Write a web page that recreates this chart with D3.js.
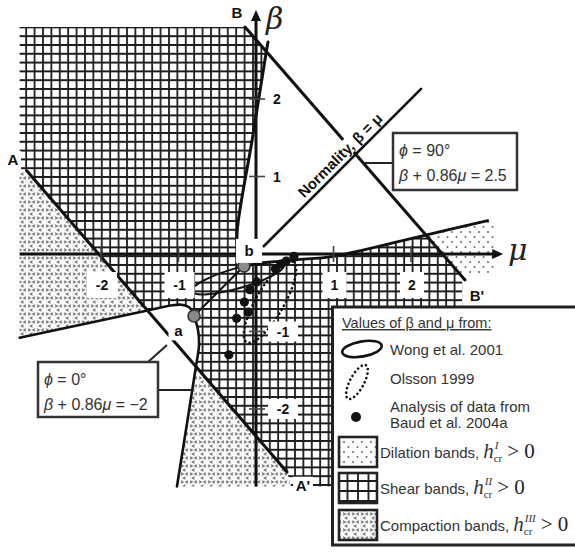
<!DOCTYPE html>
<html>
<head>
<meta charset="utf-8">
<script src="https://cdn.jsdelivr.net/npm/d3@7/dist/d3.min.js"></script>
<style>
  html, body { margin: 0; padding: 0; background: #fff; }
  svg { display: block; }
</style>
</head>
<body>
<svg id="chart" width="575" height="552"></svg>
<script>
// Axis ticks (μ horizontal, β vertical)
const muTicks = [-2, -1, 1, 2];
const betaTicks = [2, 1, -1, -2];

// Extent of the shaded (μ, β) field
const fieldMu = [-3.05, 3.08];
const fieldBeta = [-3.0, 2.93];

// Bifurcation points a and b
const pointA = [-0.8, -0.8];
const pointB = [-0.155, -0.155];

// Straight boundaries: φ = 0° (A–A'), φ = 90° (B–B') and normality β = μ
const lineAA = [[-2.955, 1.071], [0.40, -2.813]];
const lineBB = [[-0.142, 2.929], [2.697, -0.335]];
const normalityLine = [[0.1, 0.1], [2.13, 2.13]];

// Curved boundaries leaving the bifurcation points
const curveBUp = [pointB, [-0.23, 0.03], [-0.245, 0.27], [-0.045, 1.5], [0.133, 2.613], [0.155, 2.735]];
const curveBRight = [pointB, [0.1, -0.115], [0.5, -0.075], [1.0, -0.03], [2.19, 0.245], [2.99, 0.43]];
const curveALeft = [pointA, [-0.86, -0.69], [-0.96, -0.655], [-1.1, -0.665], [-1.4, -0.728], [-3.05, -1.08]];
const curveADown = [pointA, [-0.748, -0.981], [-0.735, -1.174], [-0.774, -1.445], [-1.02, -3.0]];

// Where the boundaries cross each other
const crossAALeft = [-1.4, -0.728];
const crossAADown = [-0.774, -1.445];
const crossBBUp = [0.133, 2.613];
const crossBBRight = [2.19, 0.245];
const crossBBLow = [2.632, -0.26];

// Measured (μ, β) values
const wongEllipse = { mu: -0.232, beta: -0.31, a: 0.617, b: 0.13, tilt: 16 };
const olssonEllipse = { mu: 0.18, beta: -0.62, a: 0.6, b: 0.18, tilt: 60 };
const baudMu   = [0.49, 0.39, 0.32, 0.25, 0.01, -0.08, -0.15, -0.10, -0.25, -0.35];
const baudBeta = [-0.03, -0.09, -0.13, -0.19, -0.36, -0.46, -0.62, -0.75, -0.83, -1.30];

// ---------------------------------------------------------------
const svg = d3.select("#chart");
const x = d3.scaleLinear().domain([-3, 3]).range([23.5, 488.5]);
const y = d3.scaleLinear().domain([-3, 3]).range([486.5, 21.5]);

const straight = d3.line().x(d => x(d[0])).y(d => y(d[1]));
const smooth = d3.line().x(d => x(d[0])).y(d => y(d[1])).curve(d3.curveCatmullRom.alpha(0.5));

function region(parts) {
  return parts.map((s, i) => i ? s.replace(/^M/, "L") : s).join("") + "Z";
}
const rev = a => a.slice().reverse();

// ---- patterns ----
const defs = svg.append("defs");

function gridPattern(id, w, h, sw) {
  const p = defs.append("pattern").attr("id", id).attr("patternUnits", "userSpaceOnUse")
    .attr("width", w).attr("height", h);
  p.append("rect").attr("width", w).attr("height", h).attr("fill", "#fff");
  p.append("path").attr("d", `M1,0V${h}M0,1H${w}`).attr("stroke", "#1c1c1c").attr("stroke-width", sw);
}
gridPattern("shear", 8.4, 8.8, 1.8);
gridPattern("shearKey", 10.5, 10, 1.8);

const comp = defs.append("pattern").attr("id", "compaction").attr("patternUnits", "userSpaceOnUse")
  .attr("width", 9).attr("height", 8);
comp.append("rect").attr("width", 9).attr("height", 8).attr("fill", "#fafafa");
comp.append("path")
  .attr("d", "M1,0.8L3.2,2L1,3.2 M8,0.8L5.8,2L8,3.2 M5.5,4.8L3.3,6L5.5,7.2")
  .attr("fill", "none").attr("stroke", "#6e6e6e").attr("stroke-width", 1.1);

const dil = defs.append("pattern").attr("id", "dilation").attr("patternUnits", "userSpaceOnUse")
  .attr("width", 9).attr("height", 10);
dil.append("rect").attr("width", 9).attr("height", 10).attr("fill", "#fff");
dil.append("circle").attr("cx", 2).attr("cy", 2).attr("r", 1).attr("fill", "#6a6a6a");
dil.append("circle").attr("cx", 6.5).attr("cy", 7).attr("r", 1).attr("fill", "#6a6a6a");

// ---- shaded regions ----
const fills = svg.append("g");

// shear bands, upper-left field
fills.append("path").attr("fill", "url(#shear)").attr("d", region([
  straight([[fieldMu[0], fieldBeta[1]], lineBB[0], crossBBUp]),
  smooth(rev(curveBUp.slice(0, 5))),
  straight([pointB, pointA]),
  smooth(curveALeft.slice(0, 5)),
  straight([crossAALeft, lineAA[0], [fieldMu[0], lineAA[0][1]]])
]));

// shear bands, central field below b
fills.append("path").attr("fill", "url(#shear)").attr("d", region([
  smooth(curveBRight.slice(0, 5)),
  straight([crossBBRight, crossBBLow, [2.66, crossBBLow[1]], [2.66, fieldBeta[0]],
            [0.45, fieldBeta[0]], lineAA[1], crossAADown]),
  smooth(rev(curveADown.slice(0, 4))),
  straight([pointA, pointB])
]));

// compaction bands, left of A–A'
fills.append("path").attr("fill", "url(#compaction)").attr("d", region([
  straight([[fieldMu[0], lineAA[0][1]], lineAA[0], crossAALeft, curveALeft[5]])
]));

// compaction bands, below A–A'
fills.append("path").attr("fill", "url(#compaction)").attr("d", region([
  straight([crossAADown, curveADown[4], [0.45, fieldBeta[0]], lineAA[1]])
]));

// dilation bands, right of B–B'
fills.append("path").attr("fill", "url(#dilation)").attr("d", region([
  straight([crossBBRight, curveBRight[5], [fieldMu[1], curveBRight[5][1]], [fieldMu[1], crossBBLow[1]], crossBBLow])
]));

// ---- boundary curves ----
const lines = svg.append("g").attr("fill", "none").attr("stroke", "#111").attr("stroke-linecap", "round");
lines.append("path").attr("d", straight(lineAA)).attr("stroke-width", 3);
lines.append("path").attr("d", straight(lineBB)).attr("stroke-width", 3);
lines.append("path").attr("d", straight([pointA, pointB])).attr("stroke-width", 2);
lines.append("path").attr("d", smooth(curveBUp)).attr("stroke-width", 3);
lines.append("path").attr("d", smooth(curveBRight)).attr("stroke-width", 2.8);
lines.append("path").attr("d", smooth(curveALeft)).attr("stroke-width", 2.6);
lines.append("path").attr("d", smooth(curveADown)).attr("stroke-width", 2.6);

// normality label along β = μ, on a white backing that breaks B–B'
const normMid = [1.18, 1.18];
const normG = svg.append("g")
  .attr("transform", `translate(${x(normMid[0])},${y(normMid[1])}) rotate(-45)`);
normG.append("rect").attr("x", -64).attr("y", -19).attr("width", 128).attr("height", 16).attr("fill", "#fff");
normG.append("text").attr("x", 0).attr("y", -5)
  .attr("text-anchor", "middle")
  .attr("font-family", "Liberation Sans, Arial, sans-serif").attr("font-weight", "bold")
  .attr("font-size", 15).attr("fill", "#111")
  .text("Normality, β = μ");
svg.append("path").attr("d", straight(normalityLine)).attr("fill", "none")
  .attr("stroke", "#111").attr("stroke-width", 2.6).attr("stroke-linecap", "round");

// ---- axes ----
const axes = svg.append("g");
const muEnd = 3.19, betaEnd = 3.15;
axes.append("line").attr("x1", x(fieldMu[0])).attr("x2", x(muEnd) - 8).attr("y1", y(0)).attr("y2", y(0))
  .attr("stroke", "#111").attr("stroke-width", 3);
axes.append("path").attr("fill", "#111")
  .attr("d", `M${x(muEnd)},${y(0)} l-11,-5 v10 z`);
axes.append("line").attr("y1", y(fieldBeta[0])).attr("y2", y(betaEnd) + 8).attr("x1", x(0)).attr("x2", x(0))
  .attr("stroke", "#111").attr("stroke-width", 3);
axes.append("path").attr("fill", "#111")
  .attr("d", `M${x(0)},${y(betaEnd)} l-5,11 h10 z`);

axes.selectAll(".mutick").data(muTicks).enter().append("line")
  .attr("x1", d => x(d)).attr("x2", d => x(d)).attr("y1", y(0) - 8).attr("y2", y(0) + 8)
  .attr("stroke", "#444").attr("stroke-width", 1.6);
axes.selectAll(".betatick").data(betaTicks).enter().append("line")
  .attr("x1", x(0) - 7).attr("x2", x(0) + 9).attr("y1", d => y(d)).attr("y2", d => y(d))
  .attr("stroke", "#444").attr("stroke-width", 1.6);

// ---- measured values ----
function drawEllipse(g, e) {
  return g.append("ellipse")
    .attr("rx", x(e.a) - x(0)).attr("ry", y(0) - y(e.b))
    .attr("transform", `translate(${x(e.mu)},${y(e.beta)}) rotate(${-e.tilt})`)
    .attr("fill", "none").attr("stroke", "#111");
}
const meas = svg.append("g");
drawEllipse(meas, wongEllipse).attr("stroke-width", 2);
drawEllipse(meas, olssonEllipse).attr("stroke-width", 2.6)
  .attr("stroke-dasharray", "0.1 4.6").attr("stroke-linecap", "round");
meas.selectAll(".baud").data(baudMu).enter().append("circle")
  .attr("cx", d => x(d)).attr("cy", (d, i) => y(baudBeta[i])).attr("r", 4.6).attr("fill", "#111");

// bifurcation points
[pointA, pointB].forEach(p => {
  meas.append("circle").attr("cx", x(p[0])).attr("cy", y(p[1])).attr("r", 6)
    .attr("fill", "#8a8a8a").attr("stroke", "#333").attr("stroke-width", 1.6);
});

// ---- labels with white backing ----
const labels = svg.append("g");
function backedLabel(text, cx, cy, w, h, opts = {}) {
  labels.append("rect").attr("x", cx - w / 2).attr("y", cy - h / 2).attr("width", w).attr("height", h)
    .attr("fill", "#fff");
  labels.append("text").attr("x", cx).attr("y", cy).attr("dy", "0.36em")
    .attr("text-anchor", "middle")
    .attr("font-family", "Liberation Sans, Arial, sans-serif")
    .attr("font-weight", "bold").attr("font-size", opts.size || 14)
    .attr("fill", "#111").text(text);
}
muTicks.forEach(t => backedLabel(String(t), x(t) + 1, 285, t < 0 ? 30 : 24, 26));
betaTicks.forEach(t => backedLabel(String(t), t > 0 ? 277 : 283, y(t), t > 0 ? 14 : 30, t > 0 ? 18 : 20));

backedLabel("A", x(-3.135), y(1.213), 16, 18, { size: 15 });
backedLabel("B", x(-0.245), y(3.11), 16, 18, { size: 15 });
backedLabel("B'", x(2.85), y(-0.54), 20, 18, { size: 15 });
backedLabel("A'", x(0.606), y(-2.99), 20, 18, { size: 15 });
backedLabel("a", x(-1.0), y(-0.985), 20, 20, { size: 15 });
backedLabel("b", x(-0.09), y(0.04), 26, 24, { size: 15 });

// axis symbols
svg.append("text").attr("x", 266).attr("y", 29)
  .attr("font-family", "DejaVu Serif, Liberation Serif, serif").attr("font-style", "italic")
  .attr("font-size", 30).attr("fill", "#222").text("β");
svg.append("text").attr("x", 508).attr("y", 260)
  .attr("font-family", "DejaVu Serif, Liberation Serif, serif").attr("font-style", "italic")
  .attr("font-size", 30).attr("fill", "#222").text("μ");

// ---- φ boxes with leaders ----
const boxes = svg.append("g");
function phiBox(bx, by, w, h, phi, eq, leaders) {
  leaders.forEach(l => boxes.append("line").attr("x1", l[0]).attr("y1", l[1]).attr("x2", l[2]).attr("y2", l[3])
    .attr("stroke", "#222").attr("stroke-width", 2));
  boxes.append("rect").attr("x", bx).attr("y", by).attr("width", w).attr("height", h)
    .attr("fill", "#fff").attr("stroke", "#333").attr("stroke-width", 2.5);
  const t1 = boxes.append("text").attr("x", bx + 6).attr("y", by + 23)
    .attr("font-family", "Liberation Sans, Arial, sans-serif").attr("font-size", 16).attr("fill", "#333");
  t1.append("tspan").attr("font-style", "italic").text("ϕ");
  t1.append("tspan").text(" = " + phi + "°");
  const t2 = boxes.append("text").attr("x", bx + 6).attr("y", by + 48)
    .attr("font-family", "Liberation Sans, Arial, sans-serif").attr("font-size", 16).attr("fill", "#333");
  t2.append("tspan").attr("font-style", "italic").text("β");
  t2.append("tspan").text(" + 0.86");
  t2.append("tspan").attr("font-style", "italic").text("μ");
  t2.append("tspan").text(" = " + eq);
}
phiBox(393, 133, 124, 57, "90", "2.5", [[365, 163, 393, 163]]);
phiBox(38, 362, 120, 55, "0", "−2", [[148, 362, 167, 345], [158, 390, 193, 390]]);

// ---- legend ----
const leg = svg.append("g");
leg.append("rect").attr("x", 332.5).attr("y", 307).attr("width", 250).attr("height", 238)
  .attr("fill", "#fff").attr("stroke", "#222").attr("stroke-width", 3);

const sans = "Liberation Sans, Arial, sans-serif";
leg.append("text").attr("x", 342).attr("y", 328).attr("font-family", sans)
  .attr("font-size", 14.5).attr("fill", "#333").attr("text-decoration", "underline")
  .text("Values of β and μ from:");

leg.append("ellipse").attr("rx", 20).attr("ry", 7.5)
  .attr("transform", "translate(362,349) rotate(-10)")
  .attr("fill", "none").attr("stroke", "#111").attr("stroke-width", 2.6);
leg.append("text").attr("x", 390).attr("y", 355).attr("font-family", sans).attr("font-size", 15)
  .attr("fill", "#333").text("Wong et al. 2001");

leg.append("ellipse").attr("rx", 19).attr("ry", 7)
  .attr("transform", "translate(357,382) rotate(-62)")
  .attr("fill", "none").attr("stroke", "#111").attr("stroke-width", 2.6)
  .attr("stroke-dasharray", "0.1 4.4").attr("stroke-linecap", "round");
leg.append("text").attr("x", 390).attr("y", 384).attr("font-family", sans).attr("font-size", 15)
  .attr("fill", "#333").text("Olsson 1999");

leg.append("circle").attr("cx", 356).attr("cy", 417).attr("r", 5).attr("fill", "#111");
leg.append("text").attr("x", 390).attr("y", 412).attr("font-family", sans).attr("font-size", 15)
  .attr("fill", "#333").text("Analysis of data from");
leg.append("text").attr("x", 390).attr("y", 428).attr("font-family", sans).attr("font-size", 15)
  .attr("fill", "#333").text("Baud et al. 2004a");

const keys = [
  { fill: "url(#dilation)", name: "Dilation bands,", sup: "I", y: 437 },
  { fill: "url(#shearKey)", name: "Shear bands,", sup: "II", y: 473 },
  { fill: "url(#compaction)", name: "Compaction bands,", sup: "III", y: 510 }
];
keys.forEach(k => {
  leg.append("rect").attr("x", 339).attr("y", k.y).attr("width", 38).attr("height", 30)
    .attr("fill", k.fill).attr("stroke", "#222").attr("stroke-width", 2.6);
  const base = k.y + 21;
  const t = leg.append("text").attr("x", 380).attr("y", base).attr("font-family", sans)
    .attr("font-size", 15).attr("fill", "#333").text(k.name);
  let cx = 380 + t.node().getComputedTextLength() + 4;
  const h = leg.append("text").attr("x", cx).attr("y", base)
    .attr("font-family", "Liberation Serif, Times New Roman, serif").attr("font-style", "italic")
    .attr("font-size", 21).attr("fill", "#333").text("h");
  cx += h.node().getComputedTextLength();
  const sub = leg.append("text").attr("x", cx).attr("y", base + 4)
    .attr("font-family", "Liberation Serif, Times New Roman, serif")
    .attr("font-size", 11).attr("fill", "#333").text("cr");
  const sup = leg.append("text").attr("x", cx + 1).attr("y", base - 9)
    .attr("font-family", "Liberation Serif, Times New Roman, serif").attr("font-style", "italic")
    .attr("font-size", 11).attr("fill", "#333").text(k.sup);
  cx += Math.max(sub.node().getComputedTextLength(), sup.node().getComputedTextLength() + 1) + 5;
  leg.append("text").attr("x", cx).attr("y", base)
    .attr("font-family", "Liberation Serif, Times New Roman, serif")
    .attr("font-size", 21).attr("fill", "#222").text("> 0");
});
</script>
</body>
</html>
